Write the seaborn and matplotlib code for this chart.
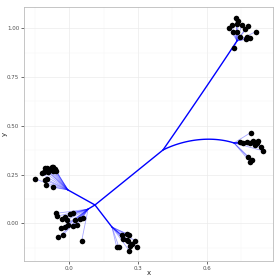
import numpy as np
import pandas as pd
import matplotlib
matplotlib.use("Agg")
import matplotlib.pyplot as plt
import seaborn as sns
from math import comb

# ---------------- data ----------------
cluster_a_x = [-0.150, -0.121, -0.110, -0.106, -0.099, -0.077, -0.070, -0.062, -0.058, -0.070, -0.106, -0.099, -0.102, -0.070, -0.084, -0.093]
cluster_a_y = [0.227, 0.256, 0.265, 0.282, 0.285, 0.290, 0.287, 0.278, 0.268, 0.268, 0.222, 0.226, 0.196, 0.185, 0.278, 0.263]

cluster_b_x = [-0.058, -0.052, -0.033, -0.019, -0.011, 0.003, 0.015, 0.025, -0.004, -0.019, -0.038, -0.029, -0.048, 0.054, 0.047, 0.059, 0.032, 0.015]
cluster_b_y = [0.051, 0.037, 0.021, 0.034, 0.017, 0.048, 0.054, 0.017, -0.009, -0.017, -0.026, -0.060, -0.072, -0.089, 0.021, 0.029, -0.009, -0.014]

cluster_c_x = [0.207, 0.217, 0.229, 0.251, 0.262, 0.236, 0.258, 0.287, 0.272, 0.297, 0.262, 0.251, 0.265]
cluster_c_y = [-0.123, -0.123, -0.060, -0.055, -0.060, -0.082, -0.089, -0.089, -0.106, -0.123, -0.141, -0.086, -0.116]

cluster_d_x = [0.728, 0.738, 0.709, 0.699, 0.716, 0.731, 0.753, 0.782, 0.767, 0.815, 0.777, 0.789, 0.772, 0.745, 0.719, 0.731]
cluster_d_y = [1.051, 1.037, 1.017, 1.000, 0.983, 1.022, 1.017, 1.012, 0.995, 0.983, 0.957, 0.949, 0.944, 0.954, 0.897, 0.983]

cluster_e_x = [0.792, 0.745, 0.760, 0.775, 0.789, 0.803, 0.811, 0.818, 0.825, 0.836, 0.845, 0.781, 0.797, 0.789]
cluster_e_y = [0.465, 0.418, 0.410, 0.418, 0.410, 0.422, 0.402, 0.410, 0.422, 0.393, 0.372, 0.338, 0.325, 0.316]

# hub (internal) nodes: A, B, C, D, E
hub_x = [-0.006, 0.082, 0.186, 0.732, 0.719]
hub_y = [0.171, 0.073, -0.019, 0.935, 0.412]

# central node and junction
center_xy = [0.112, 0.094]
junction_xy = [0.409, 0.376]

# bezier control points of the two long branches
branch_up_ctrl = [[0.600, 0.700]]
branch_right_ctrl = [[0.505, 0.432], [0.623, 0.448]]

xticks = [0.0, 0.3, 0.6]
xtick_labels = ["0.0", "0.3", "0.6"]
yticks = [0.0, 0.25, 0.5, 0.75, 1.0]
ytick_labels = ["0.00", "0.25", "0.50", "0.75", "1.00"]

# ---------------- build ----------------
clusters = [
    (cluster_a_x, cluster_a_y),
    (cluster_b_x, cluster_b_y),
    (cluster_c_x, cluster_c_y),
    (cluster_d_x, cluster_d_y),
    (cluster_e_x, cluster_e_y),
]
rows = []
for ci, (cx, cy) in enumerate(clusters):
    for px, py in zip(cx, cy):
        rows.append({"x": px, "y": py, "cluster": ci})
df = pd.DataFrame(rows)

sns.set_theme(style="white")
plt.rcParams["font.family"] = ["DejaVu Sans"]

fig = plt.figure(figsize=(2.8, 2.8), dpi=100)
ax = fig.add_axes([0.0857, 0.068, 0.889, 0.907])

BLUE = "#0000FF"


def bezier(pts, n=80):
    pts = np.asarray(pts, float)
    t = np.linspace(0, 1, n)[:, None]
    k = len(pts) - 1
    out = np.zeros((n, 2))
    for i, p in enumerate(pts):
        out += comb(k, i) * (t ** i) * ((1 - t) ** (k - i)) * p
    return out

# leaf edges
for ci, (cx, cy) in enumerate(clusters):
    hx, hy = hub_x[ci], hub_y[ci]
    for px, py in zip(cx, cy):
        ax.plot([hx, px], [hy, py], color=BLUE, alpha=0.35, lw=0.6,
                solid_capstyle="round", zorder=2)

# center to hubs A, B, C and to junction
for ci in range(3):
    ax.plot([center_xy[0], hub_x[ci]], [center_xy[1], hub_y[ci]],
            color=BLUE, lw=1.0, zorder=3)
ax.plot([center_xy[0], junction_xy[0]], [center_xy[1], junction_xy[1]],
        color=BLUE, lw=1.0, zorder=3)

# long curved branches
up = bezier([junction_xy] + branch_up_ctrl + [[hub_x[3], hub_y[3]]])
ax.plot(up[:, 0], up[:, 1], color=BLUE, lw=1.0, zorder=3)
rt = bezier([junction_xy] + branch_right_ctrl + [[hub_x[4], hub_y[4]]])
ax.plot(rt[:, 0], rt[:, 1], color=BLUE, lw=1.0, zorder=3)

sns.scatterplot(data=df, x="x", y="y", color="black", s=16, linewidth=0,
                ax=ax, zorder=4, legend=False)

ax.set_xlim(-0.198, 0.889)
ax.set_ylim(-0.193, 1.109)

ax.set_xticks(xticks)
ax.set_xticklabels(xtick_labels)
ax.set_yticks(yticks)
ax.set_yticklabels(ytick_labels)
ax.set_xticks([-0.15, 0.15, 0.45, 0.75], minor=True)
ax.set_yticks([-0.125, 0.125, 0.375, 0.625, 0.875], minor=True)

ax.grid(True, which="major", color="#ebebeb", lw=0.5)
ax.grid(True, which="minor", color="#f3f3f3", lw=0.3)
ax.set_axisbelow(True)

ax.tick_params(axis="both", which="major", labelsize=4, colors="#333333",
               labelcolor="#4d4d4d", length=2, width=0.5, pad=1.5,
               bottom=True, left=True)
ax.tick_params(axis="both", which="minor", length=0)

for sp in ax.spines.values():
    sp.set_color("#bbbbbb")
    sp.set_linewidth(0.6)

ax.set_xlabel("x", fontsize=5, color="#222222")
ax.set_ylabel("y", fontsize=5, color="#222222")
ax.xaxis.set_label_coords(0.5, -0.035)
ax.yaxis.set_label_coords(-0.065, 0.5)

fig.savefig("out.png", dpi=100, facecolor="white")
